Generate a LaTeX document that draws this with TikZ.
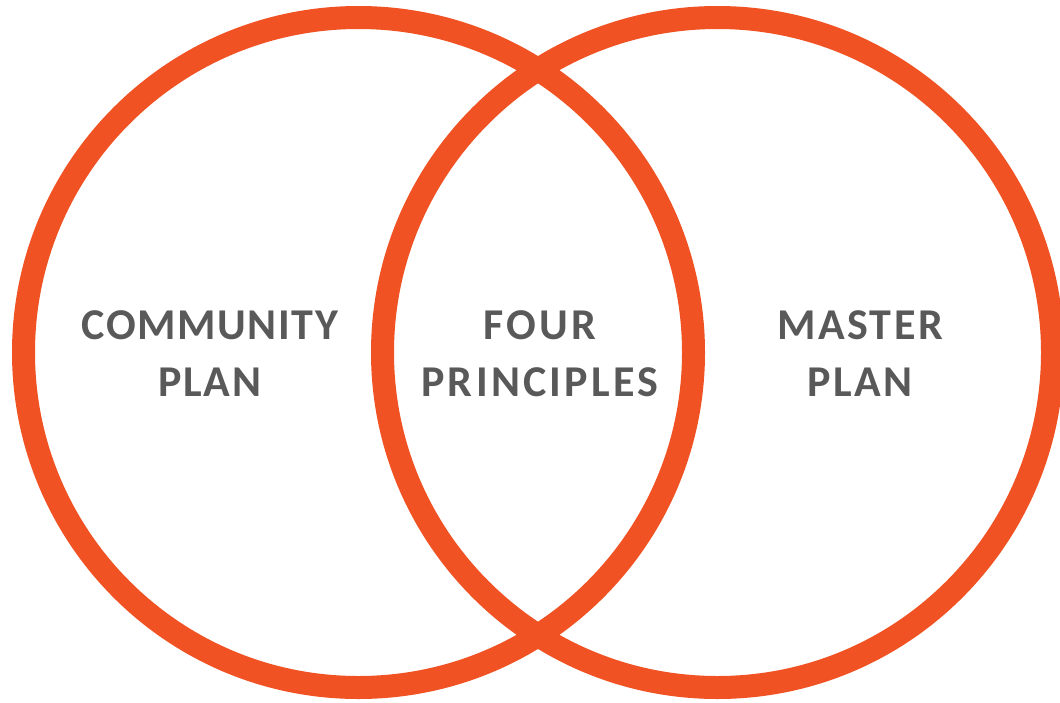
\documentclass[tikz,border=0pt]{standalone}
\usepackage{fontspec}
\setmainfont{Carlito}
\definecolor{orangevif}{RGB}{240,82,35}
\definecolor{grisfonce}{RGB}{89,89,89}

\begin{document}
\begin{tikzpicture}[x=1pt, y=-1pt,
    anneau/.style={draw=orangevif, line width=23pt},
    etiquette/.style={font=\bfseries\fontsize{44}{57}\selectfont\addfontfeature{LetterSpace=#1}, text=grisfonce, align=center, inner sep=0pt}]
  % données (mesurées en px sur l'image)
  \def\r{335}      % rayon des cercles
  \def\xg{358.5}   % centre du cercle gauche
  \def\xd{717.5}   % centre du cercle droit
  \def\yc{352.5}   % hauteur des centres
  % cadre
  \useasboundingbox (0,0) rectangle (1060,702);
  % les deux cercles
  \draw[anneau] (\xg,\yc) circle[radius=\r];
  \draw[anneau] (\xd,\yc) circle[radius=\r];
  % textes (espacement des lettres un peu élargi)
  \node[etiquette=3.5] (communaute) at (210,354) {COMMUNITY\\PLAN};
  \node[etiquette=7.5] (principes) at (540,354) {FOUR\\PRINCIPLES};
  \node[etiquette=5.5] (plan) at (860,354) {MASTER\\PLAN};
\end{tikzpicture}
\end{document}
